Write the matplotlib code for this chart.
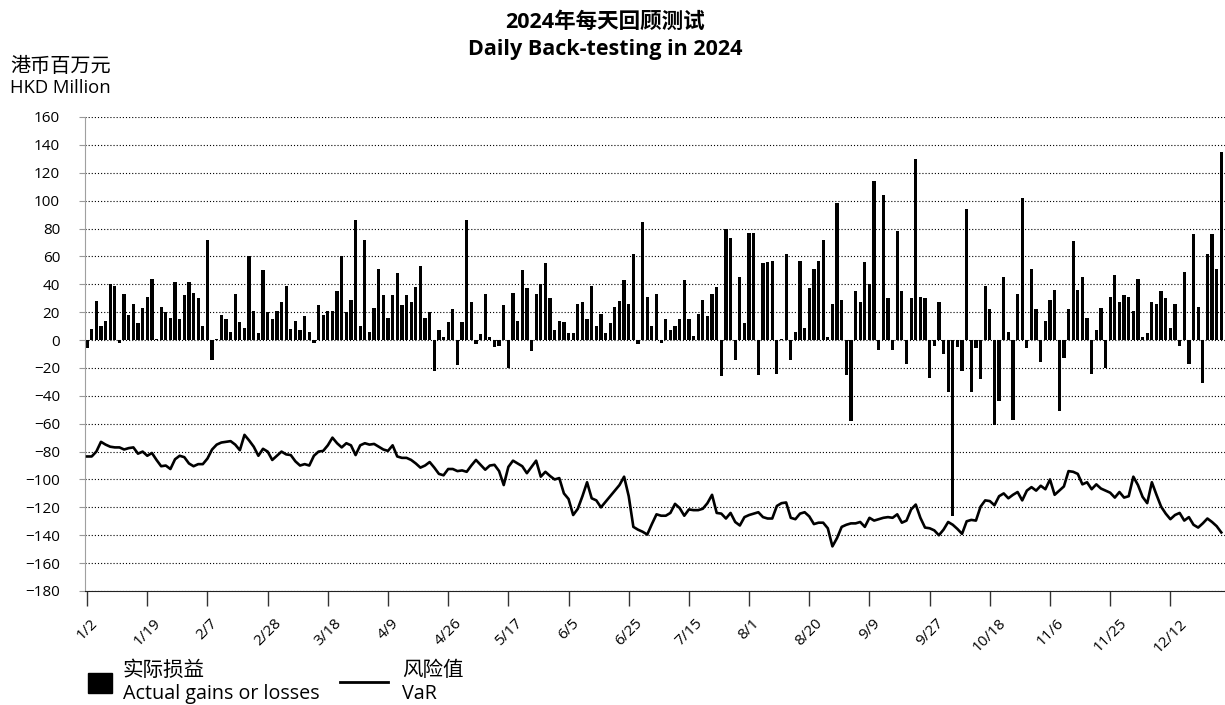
import matplotlib
matplotlib.use('Agg')
import matplotlib.pyplot as plt
from matplotlib.patches import Rectangle
from matplotlib.lines import Line2D

plt.rcParams['font.family'] = ['Open Sans', 'Noto Sans CJK SC', 'DejaVu Sans']

# daily actual gains / losses (HKD million)
gains = [
    -6, 8, 28, 10, 14, 40, 39, -2, 33, 18, 26, 12, 23, 31, 44, 1, 24, 20, 16, 42,
    15, 32, 42, 34, 30, 10, 72, -14, 1, 18, 15, 6, 33, 13, 9, 60, 21, 5, 50, 20,
    15, 21, 27, 39, 8, 14, 7, 17, 6, -2, 25, 18, 21, 21, 35, 60, 20, 29, 86, 10,
    72, 6, 23, 51, 32, 16, 32, 48, 25, 32, 27, 38, 53, 16, 20, -22, 7, 2, 13, 22,
    -18, 13, 86, 27, -3, 4, 33, 2, -5, -4, 25, -20, 34, 14, 50, 37, -8, 33, 40, 55,
    30, 7, 14, 13, 5, 5, 26, 27, 15, 39, 10, 19, 5, 12, 24, 28, 43, 26, 62, -3,
    85, 31, 10, 33, -2, 15, 7, 10, 15, 43, 15, 3, 19, 29, 17, 33, 38, -26, 80, 73,
    -14, 45, 12, 77, 77, -25, 55, 56, 57, -24, 1, 62, -14, 6, 57, 9, 37, 51, 57, 72,
    2, 26, 98, 29, -25, -58, 35, 27, 56, 40, 114, -7, 104, 30, -7, 78, 35, -17, 30, 130,
    31, 30, -27, -4, 27, -10, -37, -126, -5, -22, 94, -37, -6, -28, 39, 22, -61, -44, 45, 6,
    -57, 33, 102, -6, 51, 22, -16, 14, 29, 36, -51, -13, 22, 71, 36, 45, 16, -24, 7, 23,
    -20, 31, 47, 27, 32, 31, 21, 44, 2, 5, 27, 26, 35, 30, 9, 26, -4, 49, -17, 76,
    24, -31, 62, 76, 51, 135,
]

# daily VaR (HKD million)
var = [
    -83.5, -83.5, -80, -73, -75, -76.5, -77, -77, -78.5, -77.5, -77, -81.5, -80, -83, -81, -86, -90.5, -90, -92.5, -85.5,
    -83, -84, -88.5, -90.5, -89, -89, -85, -78.5, -75, -73.5, -73, -72.5, -75, -79, -68, -72, -76.5, -83, -78, -80,
    -86, -83, -80, -82, -82.5, -87, -90, -89, -90, -83, -80, -79.5, -75.5, -70, -74, -77, -74, -75.5, -82.5, -75.5,
    -74, -75, -74.5, -76.5, -78.5, -79.5, -75.5, -83.5, -84.5, -84.5, -86, -88.5, -91.5, -90, -87.5, -91.5, -96, -97, -92.5, -92.5,
    -94, -93.5, -94.5, -90, -86, -89.5, -93, -90, -89.5, -94, -104, -91, -86.5, -88.5, -90.5, -95.5, -91, -86.5, -98, -94.5,
    -97.5, -100, -99, -110, -114, -125.5, -121, -112, -102, -113.5, -115, -120, -116, -112, -108, -104, -98, -112, -134, -136,
    -137.5, -139.5, -132, -125, -126, -126, -124, -117.5, -120.5, -126, -121.5, -122, -122, -121, -117, -111, -124, -124.5, -128, -124,
    -130.5, -133, -127, -125.5, -124.5, -123.5, -127, -128, -128, -119, -117, -116.5, -127.5, -128.5, -124.5, -123.5, -126.5, -132, -131, -131,
    -135, -148, -142, -134, -132.5, -131.5, -131.5, -130.5, -134, -127.5, -129.5, -128.5, -127.5, -127, -127.5, -125, -131, -129.5, -121.5, -118,
    -127.5, -134.5, -135, -136.5, -140, -136, -130.5, -132.5, -135.5, -139, -130, -129, -129.5, -119.5, -115, -115.5, -118.5, -112, -110, -113.5,
    -111, -109, -115, -108, -105.5, -108, -104.5, -107, -100, -111, -108, -105, -94, -94.5, -96, -103.5, -102, -107, -103.5, -106.5,
    -108, -109.5, -113, -109, -113, -112, -98, -104, -112.5, -117, -102, -111, -119.5, -124.5, -128.5, -125.5, -124, -129.5, -127, -132.5,
    -134.5, -131.5, -128, -130.5, -133.5, -138,
]

tick_labels = ['1/2', '1/19', '2/7', '2/28', '3/18', '4/9', '4/26', '5/17', '6/5', '6/25',
               '7/15', '8/1', '8/20', '9/9', '9/27', '10/18', '11/6', '11/25', '12/12']
tick_step = 13

W, H = 1225, 705
fig = plt.figure(figsize=(W / 100, H / 100), dpi=100)
ax = fig.add_axes([85 / W, 1 - 591 / H, (W - 85) / W, (591 - 117) / H])

x = list(range(len(gains)))
ax.bar(x, gains, width=0.7, color='black', zorder=2)
ax.plot(x, var, color='black', linewidth=1.9, zorder=3)

ax.set_xlim(-0.45, len(gains) - 0.2)
ax.set_ylim(-180, 160)
ax.set_yticks(range(-180, 161, 20))
ax.set_xticks([i * tick_step for i in range(len(tick_labels))])
ax.set_xticklabels(tick_labels, rotation=45, ha='center', fontsize=11)
ax.tick_params(axis='y', labelsize=11, length=4, color='#999999', pad=14)
ax.tick_params(axis='x', length=11, width=1, color='#333333', pad=7)

ax.yaxis.grid(True, color='black', linestyle=(0, (1, 1.8)), linewidth=0.8)
ax.set_axisbelow(True)
for s in ['top', 'right']:
    ax.spines[s].set_visible(False)
ax.spines['left'].set_color('#a0a0a0')
ax.spines['bottom'].set_color('#222222')

# titles
fig.text(605 / W, 1 - 22 / H, '2024年每天回顾测试', ha='center', va='center',
         fontsize=15.5, fontweight='bold')
fig.text(605 / W, 1 - 50 / H, 'Daily Back-testing in 2024', ha='center', va='center',
         fontsize=15.5, fontweight='bold')
fig.text(10 / W, 1 - 67 / H, '港币百万元', ha='left', va='center', fontsize=14.5)
fig.text(10 / W, 1 - 88 / H, 'HKD Million', ha='left', va='center', fontsize=13.3)

# legend
fig.add_artist(Rectangle((88 / W, 1 - 693 / H), 24 / W, 20 / H,
                         transform=fig.transFigure, color='black'))
fig.text(123 / W, 1 - 670 / H, '实际损益', ha='left', va='center', fontsize=14.8)
fig.text(123 / W, 1 - 694 / H, 'Actual gains or losses', ha='left', va='center', fontsize=14.2)
fig.add_artist(Line2D([340 / W, 388 / W], [1 - 682 / H, 1 - 682 / H],
                      transform=fig.transFigure, color='black', linewidth=2))
fig.text(402 / W, 1 - 670 / H, '风险值', ha='left', va='center', fontsize=14.8)
fig.text(402 / W, 1 - 694 / H, 'VaR', ha='left', va='center', fontsize=14.2)

fig.savefig('out.png', dpi=100)
